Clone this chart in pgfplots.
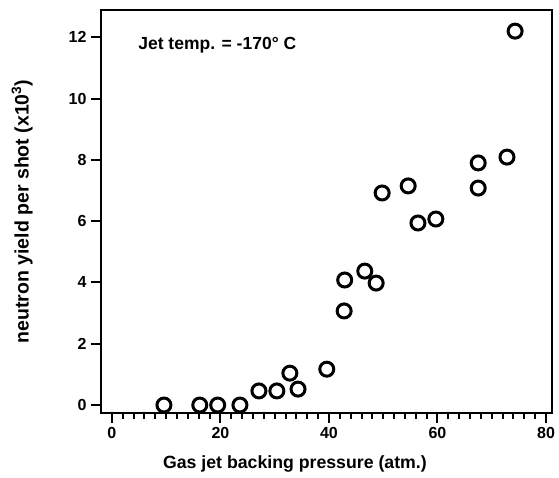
\documentclass[border=0pt]{standalone}
\usepackage{pgfplots}
\pgfplotsset{compat=1.18}
\usepackage{fontspec}
\setmainfont{Liberation Sans}
\begin{document}
\begin{tikzpicture}
\useasboundingbox (-101pt,-64pt) rectangle (458pt,413pt);
\begin{axis}[
  scale only axis,
  width=451pt, height=403pt,
  xmin=-2, xmax=81.1, ymin=-0.26, ymax=12.89,
  xtick={0,20,...,80}, ytick={0,2,...,12},
  minor x tick num=9,
  tick pos=left, tick align=outside,
  major tick length=10pt, minor tick length=6pt,
  every tick/.style={line width=2pt, black},
  axis line style={line width=2pt},
  /pgf/number format/assume math mode=true,
  ticklabel style={font=\fontsize{16}{19}\selectfont\bfseries},
  label style={font=\fontsize{17.7}{21}\selectfont\bfseries},
  xlabel={Gas jet backing pressure (atm.)},
  ylabel={neutron yield per shot (x10\textsuperscript{3})},
  xlabel style={at={(axis description cs:0.43,-0.127)}, anchor=center},
  ylabel style={font=\fontsize{19.5}{23}\selectfont\bfseries, at={(axis description cs:-0.175,0.5)}, anchor=center},
  yticklabel style={xshift=-1pt},
  xticklabel style={yshift=-1pt},
]
\addplot[only marks, mark=o, mark size=7pt, mark options={line width=3pt, black}] coordinates {
(9.6,0) (16.2,0) (19.5,0) (23.6,0) (27.1,0.46) (30.4,0.46) (32.8,1.04) (34.3,0.52)
(39.6,1.17) (42.8,3.07) (42.9,4.08) (46.6,4.37) (48.7,3.98) (49.8,6.92) (54.6,7.15)
(56.4,5.94) (59.7,6.07) (67.5,7.9) (67.5,7.08) (72.8,8.09) (74.3,12.2)
};
\node[anchor=west, font=\fontsize{17.5}{21}\selectfont\bfseries] at (rel axis cs:0.075,0.913) {Jet temp. = -170° C};
\end{axis}
\end{tikzpicture}
\end{document}
